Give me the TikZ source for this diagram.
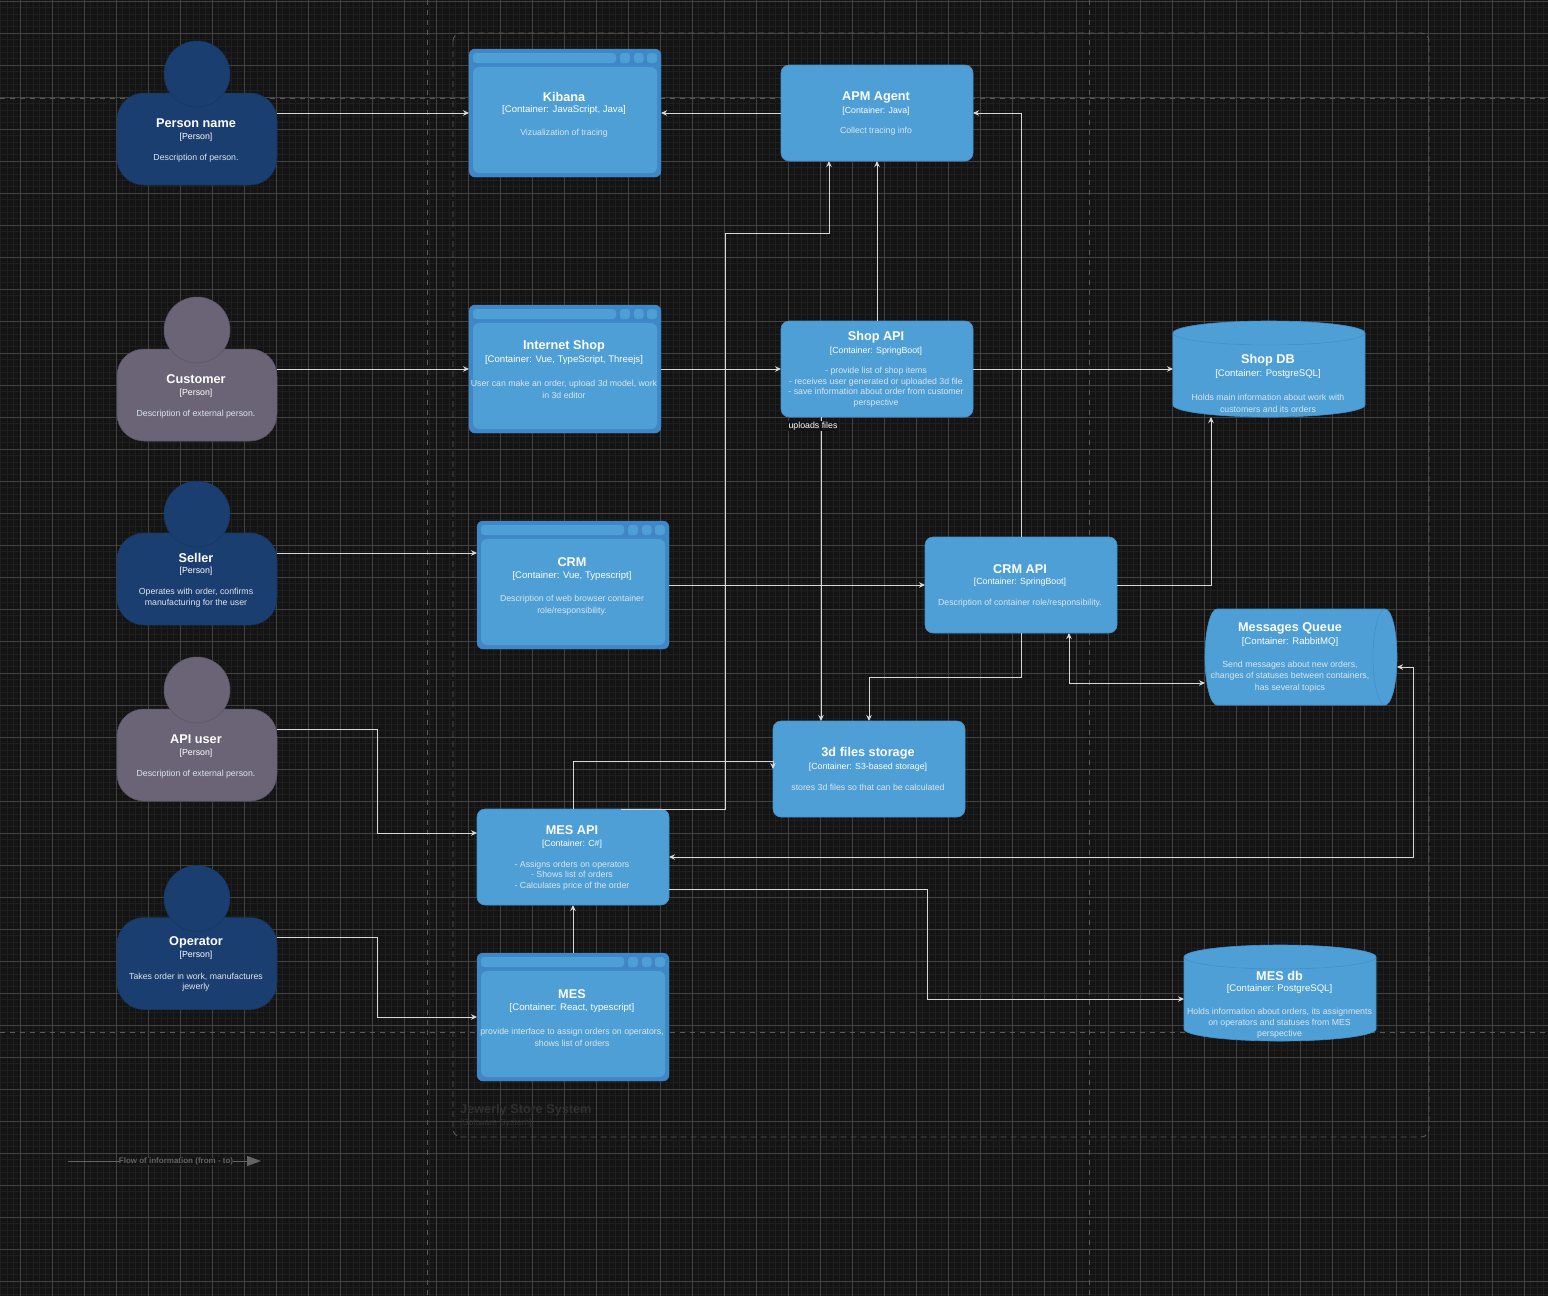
\documentclass[tikz,border=0pt]{standalone}
\usepackage{fontspec}
\setmainfont{Liberation Sans}
\usetikzlibrary{arrows.meta,calc,backgrounds}
\definecolor{bgc}{HTML}{141414}
\definecolor{gridmin}{HTML}{1F1F1F}
\definecolor{gridmaj}{HTML}{424242}
\definecolor{dashc}{HTML}{5A5A5A}
\definecolor{persB}{HTML}{1A3E6F}
\definecolor{persBs}{HTML}{173660}
\definecolor{persG}{HTML}{6B6477}
\definecolor{persGs}{HTML}{5C5567}
\definecolor{cont}{HTML}{4D9FD6}
\definecolor{contS}{HTML}{3F87C7}
\definecolor{descc}{HTML}{DDE6EE}
\definecolor{faint}{HTML}{303030}
\definecolor{legc}{HTML}{646464}
\definecolor{linec}{HTML}{D8D8D8}
\tikzset{
  x=1pt,y=-1pt,
  flow/.style={draw=linec,line width=0.95pt,-{Stealth[length=6pt,width=5.5pt]}},
  flowb/.style={flow,{Stealth[length=6pt,width=5.5pt]}-{Stealth[length=6pt,width=5.5pt]}},
  boxc/.style={rectangle,rounded corners=8pt,fill=cont,draw=contS!70!cont,line width=0.6pt,inner sep=0pt,outer sep=0pt,minimum width=192pt,minimum height=96pt},
  winc/.style={rectangle,rounded corners=6pt,fill=contS,draw=contS,inner sep=0pt,outer sep=0pt,minimum width=192pt,minimum height=128pt},
  bodyP/.style={rectangle,rounded corners=27pt,inner sep=0pt,outer sep=0pt,minimum width=160pt,minimum height=92pt},
  headP/.style={circle,inner sep=0pt,outer sep=0pt,minimum size=66pt},
  ctitle/.style={font=\fontsize{12.7}{15}\bfseries\selectfont,text=white,inner sep=0pt},
  csub/.style={font=\fontsize{#1}{11}\selectfont,text=white,inner sep=0pt},
  cdesc/.style={font=\fontsize{8.75}{#1}\selectfont,text=descc,align=center,inner sep=0pt},
  fake/.style={inner sep=0pt,outer sep=0pt,minimum width=192pt,minimum height=96pt},
}
% name, head top, title offset, title, sub offset, desc, fill, border
\newcommand{\persn}[8]{%
  \node[bodyP,fill=#7,draw=#8,line width=0.5pt] (#1) at (197,#2+98) {};
  \node[headP,fill=#7,draw=#8,line width=0.5pt] (#1h) at (197,#2+33) {};
  \node[ctitle] (#1t) at (196,#2+#3) {#4};
  \node[csub=8.8] (#1s) at (196,#2+#5) {[Person]};
  \node[cdesc=10.2] (#1d) at (196,#2+116.8) {#6};
}
% [leading] name cx titleY descY title sub subsize desc
\newcommand{\bxtextB}[9][11.8]{%
  \node[ctitle] (#2t) at (#3,#4) {#6};
  \node[csub=#8] (#2s) at (#3,#4+13.5) {#7};
  \node[cdesc=#1] (#2d) at (#3,#5) {#9};
}
\newcommand{\winbox}[1]{%
  \fill[cont,rounded corners=3pt] ($(#1.north west)+(4,4)$) rectangle ($(#1.north west)+(147,14)$);
  \fill[cont,rounded corners=3pt] ($(#1.north west)+(151,4)$) rectangle ($(#1.north west)+(161,14)$);
  \fill[cont,rounded corners=3pt] ($(#1.north west)+(165,4)$) rectangle ($(#1.north west)+(174.5,14)$);
  \fill[cont,rounded corners=3pt] ($(#1.north west)+(178,4)$) rectangle ($(#1.north west)+(188,14)$);
  \fill[cont,rounded corners=6pt] ($(#1.north west)+(4,18)$) rectangle ($(#1.south east)+(-4,-4)$);
}
\begin{document}
\begin{tikzpicture}
\useasboundingbox (0,0) rectangle (1548,1296);
\fill[bgc] (0,0) rectangle (1548,1296);
% grid
\foreach \i in {0,...,242}{\draw[gridmin,line width=0.6pt] ({0.8+6.4*\i},0) -- ({0.8+6.4*\i},1296);}
\foreach \i in {0,...,203}{\draw[gridmin,line width=0.6pt] (0,{1+6.4*\i}) -- (1548,{1+6.4*\i});}
\foreach \i in {0,...,48}{\draw[gridmaj,line width=0.8pt] ({20+32*\i},0) -- ({20+32*\i},1296);}
\foreach \i in {0,...,40}{\draw[gridmaj,line width=0.8pt] (0,{1+32*\i}) -- (1548,{1+32*\i});}
% guides
\draw[dashc,line width=0.9pt,dash pattern=on 5pt off 5pt] (427,0) -- (427,1296);
\draw[dashc,line width=0.9pt,dash pattern=on 5pt off 5pt] (1089,0) -- (1089,1296);
\draw[dashc,line width=0.9pt,dash pattern=on 5pt off 5pt] (0,98) -- (1548,98);
\draw[dashc,line width=0.9pt,dash pattern=on 5pt off 5pt] (0,1032) -- (1548,1032);
% boundary
\draw[dashc,line width=0.9pt,dash pattern=on 6pt off 4pt,rounded corners=8pt] (453,33) rectangle (1429,1137);
\node[anchor=west,inner sep=0pt,text=faint,font=\fontsize{12.7}{15}\bfseries\selectfont] (bt) at (460,1110) {Jewerly Store System};
\node[anchor=west,inner sep=0pt,text=faint,font=\fontsize{8.8}{11}\selectfont] (bs) at (460,1123.5) {[Software System]};
% legend
\coordinate (legA) at (68,1161);
\coordinate (legB) at (261,1161);
\draw[legc,line width=0.8pt,-{Stealth[length=14pt,width=10pt,inset=0pt]}] (legA) -- (legB);
\node[fill=bgc,inner sep=0pt,text=legc,font=\fontsize{8}{10}\bfseries\selectfont] (legt) at (176,1161.3) {Flow of information (from - to)};

% persons
\persn{pn}{41}{82}{Person name}{96}{Description of person.}{persB}{persBs}
\persn{cu}{297}{82}{Customer}{96}{Description of external person.}{persG}{persGs}
\persn{se}{481}{77}{Seller}{90}{Operates with order, confirms\\manufacturing for the user}{persB}{persBs}
\persn{au}{657}{82}{API user}{96}{Description of external person.}{persG}{persGs}
\persn{op}{865.5}{76.5}{Operator}{89.5}{Takes order in work, manufactures\\jewerly}{persB}{persBs}

% web containers
\node[winc] (ki) at (565,113) {}; \winbox{ki}
\node[winc] (is) at (565,369) {}; \winbox{is}
\node[winc] (cr) at (573,585) {}; \winbox{cr}
\node[winc] (me) at (573,1017) {}; \winbox{me}
\bxtextB{ki}{564}{96.5}{133}{Kibana}{[Container: JavaScript, Java]}{9.6}{Vizualization of tracing}
\bxtextB{is}{564}{346.5}{389}{Internet Shop}{[Container: Vue, TypeScript, Threejs]}{9.6}{User can make an order, upload 3d model, work\\in 3d editor}
\bxtextB{cr}{572}{562.5}{605}{CRM}{[Container: Vue, Typescript]}{9.6}{Description of web browser container\\role/responsibility.}
\bxtextB{me}{572}{994.5}{1037}{MES}{[Container: React, typescript]}{9.6}{provide interface to assign orders on operators,\\shows list of orders}

% plain containers
\node[boxc] (ap) at (877,113) {};
\node[boxc] (sa) at (877,369) {};
\node[boxc] (ca) at (1021,585) {};
\node[boxc] (fs) at (869,769) {};
\node[boxc] (ma) at (573,857) {};
\bxtextB{ap}{876}{97.5}{131}{APM Agent}{[Container: Java]}{8.8}{Collect tracing info}
\bxtextB[10.5]{sa}{876}{337.5}{387.3}{Shop API}{[Container: SpringBoot]}{8.8}{- provide list of shop items\\- receives user generated or uploaded 3d file\\- save information about order from customer\\perspective}
\bxtextB{ca}{1020}{569}{603}{CRM API}{[Container: SpringBoot]}{8.8}{Description of container role/responsibility.}
\bxtextB{fs}{868}{753.5}{787}{3d files storage}{[Container: S3-based storage]}{8.8}{stores 3d files so that can be calculated}
\bxtextB[10.5]{ma}{572}{830.5}{875.5}{MES API}{[Container: C\#]}{8.8}{- Assigns orders on operators\\- Shows list of orders\\- Calculates price of the order}

% databases
\node[fake] (db) at (1269,369) {};
\node[fake] (md) at (1280,993) {};
\node[fake] (mq) at (1301,657) {};
\foreach \n in {db,md}{
  \fill[cont,draw=contS!70!cont,line width=0.6pt] (\n.north west) ++(0,12) arc[start angle=180,end angle=0,x radius=96,y radius=-12] -- ($(\n.south east)+(0,-12)$) arc[start angle=0,end angle=-180,x radius=96,y radius=-12] -- cycle;
  \draw[contS!70!cont,line width=0.6pt] ($(\n.north west)+(0,12)$) arc[start angle=180,end angle=360,x radius=96,y radius=-12];
}
\fill[cont,draw=contS!70!cont,line width=0.6pt] ($(mq.north west)+(12,0)$) -- ($(mq.north east)+(-12,0)$) arc[start angle=90,end angle=-90,x radius=12,y radius=-48] -- ($(mq.south west)+(12,0)$) arc[start angle=-90,end angle=-270,x radius=12,y radius=-48] -- cycle;
\draw[contS!70!cont,line width=0.6pt] ($(mq.north east)+(-12,0)$) arc[start angle=90,end angle=270,x radius=12,y radius=-48];
\bxtextB{db}{1268}{360.5}{403}{Shop DB}{[Container: PostgreSQL]}{9.6}{Holds main information about work with\\customers and its orders}
\bxtextB[11]{md}{1279.5}{975.5}{1023}{MES db}{[Container: PostgreSQL]}{9.6}{Holds information about orders, its assignments\\on operators and statuses from MES\\perspective}
\bxtextB[11.5]{mq}{1290}{628.5}{676.5}{Messages Queue}{[Container: RabbitMQ]}{9.6}{Send messages about new orders,\\changes of statuses between containers,\\has several topics}

% connectors
\draw[flow] ([yshift=26pt]pn.east) -- (ki.west);
\draw[flow] (ap.west) -- (ki.east);
\draw[flow] ([yshift=26pt]cu.east) -- (is.west);
\draw[flow] (is.east) -- (sa.west);
\draw[flow] (sa.east) -- (db.west);
\draw[flow] (sa.north) -- (ap.south);
\draw[flow] ([yshift=26pt]se.east) -- ([yshift=32pt]cr.west);
\draw[flow] (cr.east) -- (ca.west);
\draw[flow] (ca.east) -| ([xshift=-58pt]db.south);
\draw[flow] (ca.north) |- (ap.east);
\draw[flow] (ca.south) -- ++(0,44) -| (fs.north);
\draw[flowb] ([xshift=48pt]ca.south) |- ([yshift=-26pt]mq.west);
\draw[flow] ([xshift=-56pt]sa.south) -- ([xshift=-48pt]fs.north);
\node[fill=bgc,inner sep=1pt,text=white,font=\fontsize{8.8}{10}\selectfont] (upl) at (813,426.3) {uploads files};
\draw[flow] ([yshift=26pt]au.east) -- ++(100,0) |- ([yshift=24pt]ma.west);
\draw[flow] ([yshift=26pt]op.east) -- ++(100,0) |- (me.west);
\draw[flow] (me.north) -- (ma.south);
\draw[flow] (ma.north) |- ([yshift=8pt]fs.west) -- (fs.west);
\draw[flow] ([xshift=48pt]ma.north) -- ++(104,0) -- ++(0,-576) -| ([xshift=-48pt]ap.south);
\draw[flow] ([yshift=-32pt]ma.east) -- ++(258,0) |- ([yshift=-6pt]md.west);
\draw[flowb] (ma.east) -- ++(744,0) |- ([yshift=-10pt]mq.east);
\end{tikzpicture}
\end{document}
